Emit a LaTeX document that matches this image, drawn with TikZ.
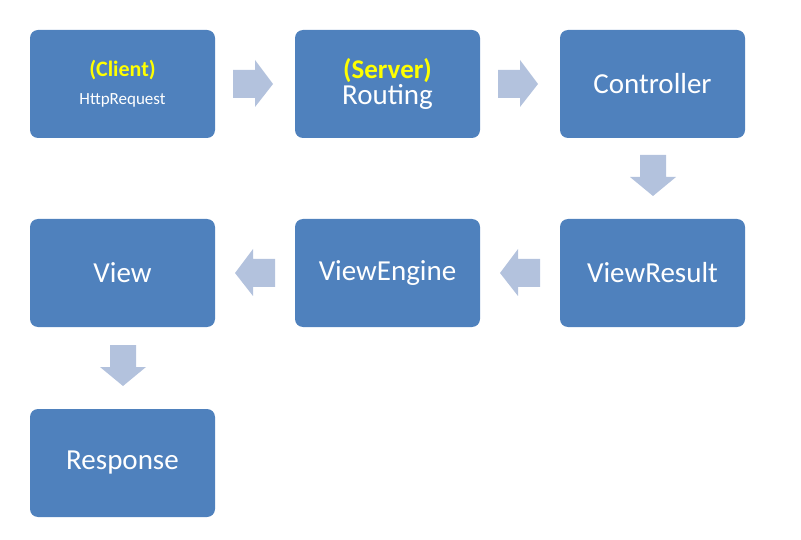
\documentclass[tikz,border=0pt]{standalone}
\usepackage{fontspec}
\setmainfont{Carlito}
\begin{document}
\begin{tikzpicture}[x=1pt,y=-1pt,
  box/.style={fill=boxc,rounded corners=8pt,minimum width=185pt,minimum height=108pt,text=white,font=\fontsize{29}{32}\selectfont,align=center,inner sep=0pt},
  arr/.style={fill=arrc}]
\definecolor{boxc}{HTML}{4F81BD}
\definecolor{arrc}{HTML}{B3C2DD}
\definecolor{yel}{HTML}{FFFF00}
\useasboundingbox (0,0) rectangle (801,540);
\node[box] (client) at (122.5,84) {{\fontsize{22}{24}\selectfont\bfseries\color{yel}(Client)}\\[-4pt]{\fontsize{17}{20}\selectfont HttpRequest}};
\node[box] (routing) at (387.5,84) {{\fontsize{27}{29}\selectfont\bfseries\color{yel}(Server)}\\[-6pt]Routing};
\node[box] (ctrl) at (652.5,84) {Controller};
\node[box] (vres) at (652.5,273) {ViewResult};
\node[box] (veng) at (387.5,273) {ViewEngine};
\node[box] (view) at (122.5,273) {View};
\node[box] (resp) at (122.5,463) {Response};
% right arrows
\foreach \x in {233,498}{
  \fill[arr] (\x,70) -- (\x+22,70) -- (\x+22,60) -- (\x+40,84) -- (\x+22,107) -- (\x+22,98) -- (\x,98) -- cycle;}
% left arrows
\foreach \x in {275,540}{
  \fill[arr] (\x,259) -- (\x-22,259) -- (\x-22,249) -- (\x-40,273) -- (\x-22,296) -- (\x-22,287) -- (\x,287) -- cycle;}
% down arrows
\foreach \x/\y in {653/155,123/345}{
  \fill[arr] (\x-13,\y) -- (\x-13,\y+22) -- (\x-23,\y+22) -- (\x,\y+41) -- (\x+23,\y+22) -- (\x+13,\y+22) -- (\x+13,\y) -- cycle;}
\end{tikzpicture}
\end{document}
